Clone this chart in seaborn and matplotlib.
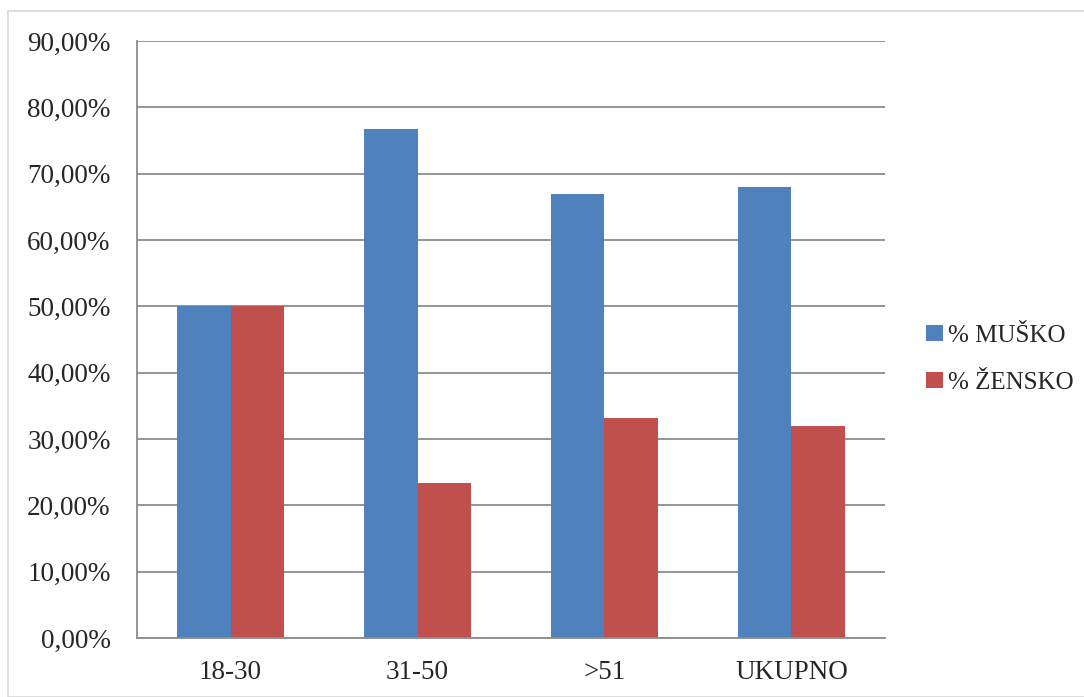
import matplotlib
matplotlib.use("Agg")
import matplotlib.pyplot as plt
import matplotlib.patches as patches
from matplotlib.ticker import FuncFormatter, MultipleLocator
import seaborn as sns
import pandas as pd

# podaci
kategorije = ["18-30", "31-50", ">51", "UKUPNO"]
musko = [50.0, 76.7, 66.9, 68.0]
zensko = [50.0, 23.3, 33.1, 32.0]
serije = ["% MUŠKO", "% ŽENSKO"]
boje = ["#4F81BD", "#C0504D"]

df = pd.DataFrame({
    "kategorija": kategorije * 2,
    "vrijednost": musko + zensko,
    "serija": [serije[0]] * len(kategorije) + [serije[1]] * len(kategorije),
})

sns.set_style("white")
plt.rcParams["font.family"] = ["Liberation Serif", "DejaVu Serif"]

fig = plt.figure(figsize=(10.84, 6.97), dpi=100)
ax = fig.add_axes([0.1264, 0.0846, 0.8164 - 0.1264, 0.9412 - 0.0846])

sns.barplot(data=df, x="kategorija", y="vrijednost", hue="serija",
            palette=boje, width=0.57, gap=0, saturation=1, ax=ax,
            edgecolor="none", linewidth=0)

ax.set_ylim(0, 90)
ax.set_xlim(-0.5, len(kategorije) - 0.5)
ax.yaxis.set_major_locator(MultipleLocator(10))
ax.yaxis.set_major_formatter(FuncFormatter(lambda v, p: "{:.2f}%".format(v).replace(".", ",")))
ax.grid(axis="y", color="#8c8c8c", linewidth=1.3)
ax.set_axisbelow(True)

# crtice na granicama kategorija
ax.set_xticks([i - 0.5 for i in range(len(kategorije) + 1)], minor=True)
ax.tick_params(axis="x", which="major", length=0, pad=16, labelsize=19.5)
ax.tick_params(axis="x", which="minor", length=7, width=1.3, color="#8c8c8c", direction="out")
ax.tick_params(axis="y", length=7, width=1.3, color="#8c8c8c", direction="out", labelsize=19.5, pad=12)
ax.set_xlabel("")
ax.set_ylabel("")

for s in ["top", "right"]:
    ax.spines[s].set_visible(False)
for s in ["left", "bottom"]:
    ax.spines[s].set_color("#8c8c8c")
    ax.spines[s].set_linewidth(1.3)

leg = ax.legend(loc="center left", bbox_to_anchor=(1.042, 0.467), frameon=False,
                fontsize=18, handlelength=0.65, handleheight=0.65, handletextpad=0.2,
                labelspacing=1.0, borderaxespad=0)

# okvir slike
fig.patches.append(patches.Rectangle((8 / 1084, 0), 1.2, 1 - 11 / 697, transform=fig.transFigure,
                                     fill=False, edgecolor="#d9d9d9", linewidth=1.2))

fig.savefig("out.png", dpi=100)
